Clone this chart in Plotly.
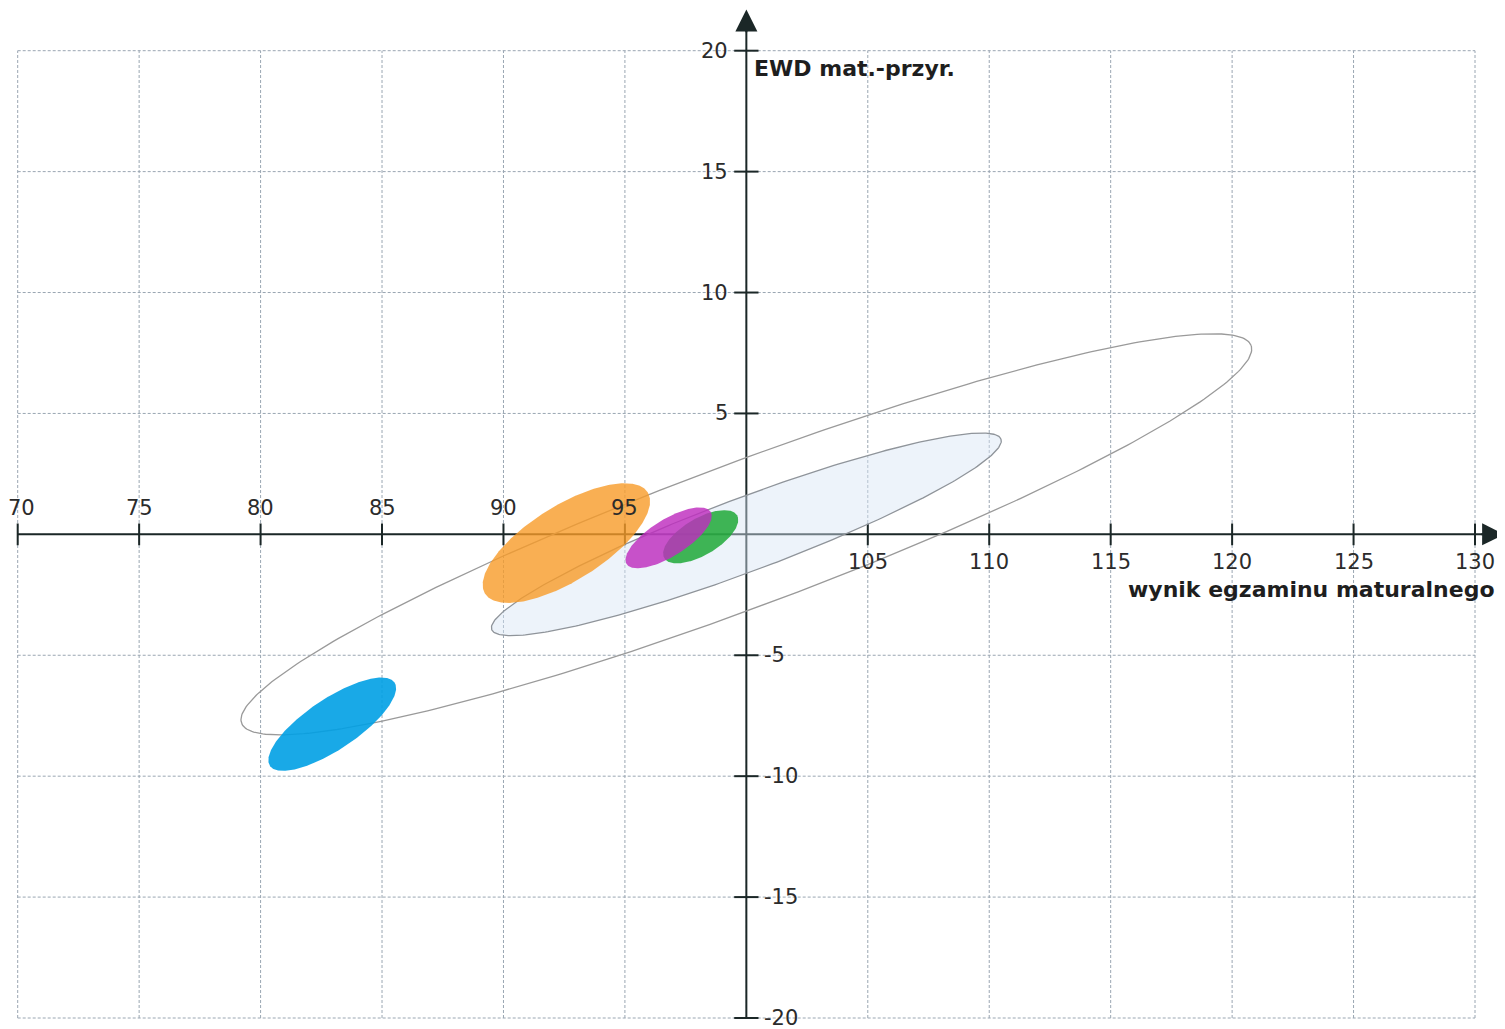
import numpy as np
import plotly.graph_objects as go

# ---------------- data ----------------
x_grid = [70, 75, 80, 85, 90, 95, 100, 105, 110, 115, 120, 125, 130]
y_grid = [-20, -15, -10, -5, 0, 5, 10, 15, 20]
x_labels_above = [70, 75, 80, 85, 90, 95]
x_labels_below = [105, 110, 115, 120, 125, 130]
y_labels_left = [20, 15, 10, 5]
y_labels_right = [-5, -10, -15, -20]

x_title = "wynik egzaminu maturalnego"
y_title = "EWD mat.-przyr."

# ellipses: centre, semi-axes, rotation (degrees)
ell_names = ["obszar 2", "obszar 1", "szkoła A", "szkoła B", "szkoła C", "szkoła D"]
ell_cx = [100.0, 100.0, 92.59, 82.95, 98.12, 96.8]
ell_cy = [0.0, 0.0, -0.36, -7.85, -0.10, -0.145]
ell_a = [22.2, 11.2, 3.95, 3.09, 1.74, 2.04]
ell_b = [2.98, 1.52, 1.55, 1.05, 0.76, 0.76]
ell_angle = [20.6, 20.6, 32.1, 33.9, 30.6, 32.0]
ell_fill = ["rgba(0,0,0,0)", "rgba(215,228,245,0.45)", "rgba(248,155,40,0.80)",
            "rgba(0,160,228,0.90)", "rgba(30,168,55,0.85)", "rgba(190,45,190,0.82)"]
ell_line = ["#9a9a9a", "#8f949a", "rgba(0,0,0,0)", "rgba(0,0,0,0)",
            "rgba(0,0,0,0)", "rgba(0,0,0,0)"]

# ---------------- figure ----------------
fig = go.Figure()

t = np.linspace(0, 2 * np.pi, 361)
for name, cx, cy, a, b, ang, fc, lc in zip(ell_names, ell_cx, ell_cy, ell_a, ell_b,
                                           ell_angle, ell_fill, ell_line):
    th = np.deg2rad(ang)
    xs = cx + a * np.cos(t) * np.cos(th) - b * np.sin(t) * np.sin(th)
    ys = cy + a * np.cos(t) * np.sin(th) + b * np.sin(t) * np.cos(th)
    fig.add_trace(go.Scatter(x=xs, y=ys, mode="lines", fill="toself", fillcolor=fc,
                             line=dict(color=lc, width=1.3), name=name,
                             hoverinfo="skip", showlegend=False))

shapes = []
grid_col = "#9aa6b2"
for gx in x_grid:
    shapes.append(dict(type="line", xref="x", yref="y", x0=gx, x1=gx,
                       y0=min(y_grid), y1=max(y_grid), layer="below",
                       line=dict(color=grid_col, width=1, dash="3px,2px")))
for gy in y_grid:
    shapes.append(dict(type="line", xref="x", yref="y", y0=gy, y1=gy,
                       x0=min(x_grid), x1=max(x_grid), layer="below",
                       line=dict(color=grid_col, width=1, dash="3px,2px")))

axis_col = "#1b2727"
x_tip = 131.2
y_tip = 21.7
shapes.append(dict(type="line", xref="x", yref="y", x0=70, x1=x_tip - 0.3, y0=0, y1=0,
                   layer="below", line=dict(color=axis_col, width=2)))
shapes.append(dict(type="line", xref="x", yref="y", x0=100, x1=100, y0=-20, y1=y_tip - 0.3,
                   layer="below", line=dict(color=axis_col, width=2)))
for gx in x_grid:
    if gx == 100:
        continue
    shapes.append(dict(type="line", xref="x", yref="y", x0=gx, x1=gx, y0=-0.45, y1=0.45,
                       layer="below", line=dict(color=axis_col, width=2)))
for gy in y_grid:
    if gy == 0:
        continue
    shapes.append(dict(type="line", xref="x", yref="y", x0=99.5, x1=100.5, y0=gy, y1=gy,
                       layer="below", line=dict(color=axis_col, width=2)))

ann = []
# arrow heads
ann.append(dict(x=x_tip, y=0, ax=x_tip - 1.0, ay=0, xref="x", yref="y", axref="x", ayref="y",
                text="", showarrow=True, arrowhead=2, arrowsize=2.2, arrowwidth=2,
                arrowcolor=axis_col, standoff=0))
ann.append(dict(x=100, y=y_tip, ax=100, ay=y_tip - 1.0, xref="x", yref="y", axref="x", ayref="y",
                text="", showarrow=True, arrowhead=2, arrowsize=2.2, arrowwidth=2,
                arrowcolor=axis_col, standoff=0))

lab_font = dict(family="DejaVu Sans", size=21, color="#2b2b2b")
for v in x_labels_above:
    ann.append(dict(x=v, y=0, xref="x", yref="y", text=str(v), showarrow=False,
                    xanchor="center", yanchor="middle", yshift=26,
                    xshift=4 if v == min(x_grid) else 0, font=lab_font))
for v in x_labels_below:
    ann.append(dict(x=v, y=0, xref="x", yref="y", text=str(v), showarrow=False,
                    xanchor="center", yanchor="middle", yshift=-28, font=lab_font))
for v in y_labels_left:
    ann.append(dict(x=100, y=v, xref="x", yref="y", text=str(v), showarrow=False,
                    xanchor="right", yanchor="middle", xshift=-16, font=lab_font))
for v in y_labels_right:
    ann.append(dict(x=100, y=v, xref="x", yref="y", text=str(v), showarrow=False,
                    xanchor="left", yanchor="middle", xshift=16, font=lab_font))

title_font = dict(family="DejaVu Sans", size=22, color="#1e1e1e")
ann.append(dict(x=100, y=20, xref="x", yref="y", text="<b>" + y_title + "</b>", showarrow=False,
                xanchor="left", yanchor="middle", xshift=6, yshift=-18, font=title_font))
ann.append(dict(x=130, y=0, xref="x", yref="y", text="<b>" + x_title + "</b>", showarrow=False,
                xanchor="right", yanchor="middle", xshift=22, yshift=-55, font=title_font))

# page body has an 8px margin: figure pixel = screen pixel - 8
W, H, OFF = 1497, 1021, 8
px_per_x = (1475.0 - 17.7) / 60.0
px_per_y = (1018.0 - 50.7) / 40.0
x70_px = 17.7 - OFF
y0_px = 50.7 + 20 * px_per_y - OFF
x_range = [70 - x70_px / px_per_x, 70 + (W - x70_px) / px_per_x]
y_range = [-(H - y0_px) / px_per_y, y0_px / px_per_y]

fig.update_layout(
    width=W, height=H,
    margin=dict(l=0, r=0, t=0, b=0),
    paper_bgcolor="white", plot_bgcolor="white",
    xaxis=dict(range=x_range, visible=False, fixedrange=True),
    yaxis=dict(range=y_range, visible=False, fixedrange=True),
    shapes=shapes, annotations=ann, showlegend=False,
)

fig.write_html("out.html")
